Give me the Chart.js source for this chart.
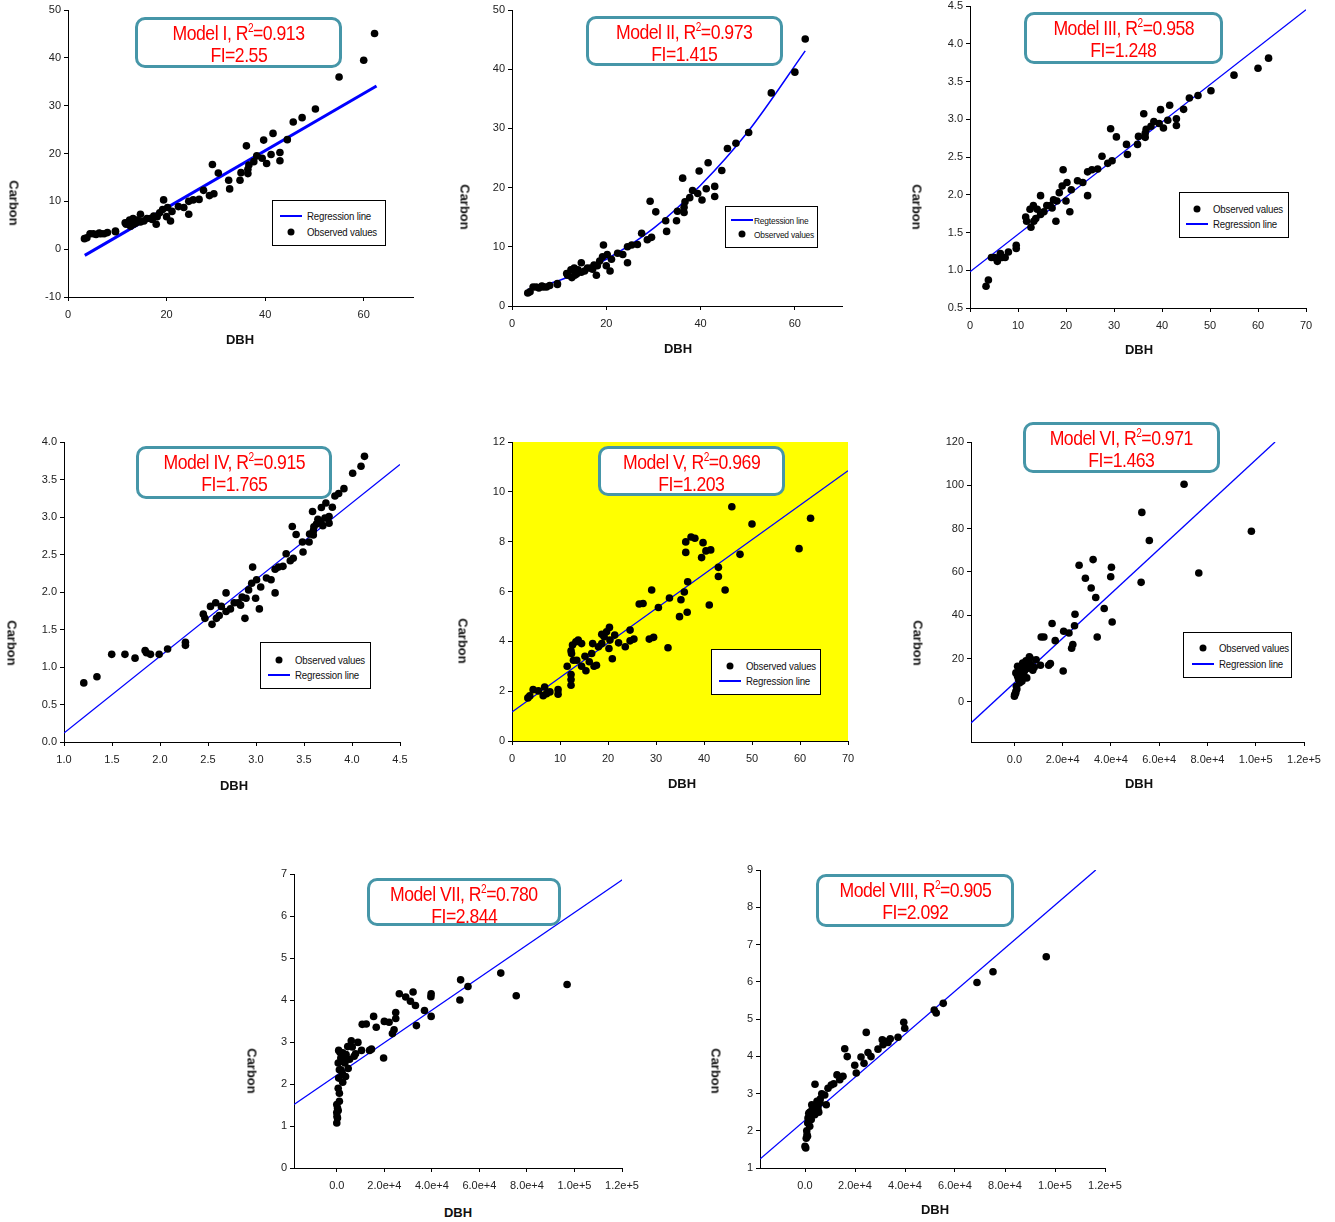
<!DOCTYPE html>
<html>
<head>
<meta charset="utf-8">
<script src="https://cdn.jsdelivr.net/npm/chart.js@4.4.0/dist/chart.umd.min.js"></script>
<style>
html,body{margin:0;padding:0;background:#fff;}
body{width:1335px;height:1222px;position:relative;overflow:hidden;font-family:'Liberation Sans',Arial,sans-serif;}
.wrap{position:absolute;}
.ttl{position:absolute;font-weight:bold;font-size:13px;color:#111;white-space:nowrap;transform:translate(-50%,-50%);}
.ttl.v{transform:translate(-50%,-50%) rotate(90deg);}
.box{position:absolute;box-sizing:border-box;border:3px solid #4696a8;border-radius:10px;background:#fff;color:#ff0000;
  font-family:'Liberation Sans',Arial,sans-serif;font-size:21px;letter-spacing:-0.6px;
  text-align:center;line-height:22px;padding-top:2px;white-space:nowrap;}
.box .row{height:22px;}
.box .row span{display:inline-block;transform:scaleX(0.84);transform-origin:50% 50%;}
.box sup{font-size:12px;line-height:0;vertical-align:0;position:relative;top:-8px;}
.lg{position:absolute;box-sizing:border-box;border:1px solid #000;background:#fff;
  font-family:'Liberation Sans',Arial,sans-serif;color:#111;letter-spacing:-0.2px;}
.lg .t{position:absolute;white-space:nowrap;transform:translateY(-50%) scaleX(0.88);transform-origin:0 50%;}
.lg .ln{position:absolute;height:2px;background:#0000ff;transform:translateY(-50%);}
.lg .dt{position:absolute;width:7px;height:7px;border-radius:50%;background:#000;transform:translate(-50%,-50%);}
</style>
</head>
<body>
<script>
// ---- Tree data: DBH vs Carbon (Models I, II) and their log forms (Models III, IV)
const dbh = [62.2,60.0,55.0,50.2,47.5,45.7,44.5,41.6,39.7,36.2,43.0,43.0,41.2,40.3,38.3,39.4,37.7,36.7,36.5,36.5,
  35.1,34.9,32.6,32.8,30.5,29.3,29.6,28.7,27.5,26.6,25.4,24.5,24.5,23.5,22.4,21.1,19.4,20.2,20.8,20.0,
  19.2,18.6,17.9,17.4,16.7,16.0,15.4,14.7,14.7,14.0,13.3,12.5,11.8,12.7,11.6,18.1,17.1,13.7,13.2,
  3.34,3.83,4.47,5.13,5.70,6.33,6.42,6.69,7.32,8.00,9.63,9.63];
const carbon = [45.1,39.5,36.0,29.3,27.5,26.6,22.9,24.2,22.8,21.6,20.2,18.5,19.8,17.9,19.5,19.0,18.3,17.6,16.7,15.8,
  16.0,14.4,14.4,12.6,15.9,17.7,11.6,11.2,12.3,10.4,10.3,10.0,7.3,8.7,8.9,7.9,10.3,8.7,5.9,6.8,
  8.3,7.6,5.2,6.9,6.4,6.4,5.9,7.3,5.7,6.1,5.2,6.1,5.2,4.8,5.5,6.8,6.2,5.4,6.4,
  2.20,2.39,3.22,3.22,3.06,3.39,3.29,3.22,3.22,3.46,3.78,3.63];
const lnCarbon = [3.809,3.676,3.584,3.378,3.314,3.281,3.131,3.186,3.127,3.073,3.006,2.918,2.986,2.885,2.970,2.944,2.907,2.868,2.815,2.760,
  2.773,2.667,2.667,2.534,2.766,2.874,2.451,2.416,2.510,2.342,2.332,2.303,1.988,2.163,2.186,2.067,2.332,2.163,1.775,1.917,
  2.116,2.028,1.649,1.932,1.856,1.856,1.775,1.988,1.740,1.808,1.649,1.808,1.649,1.569,1.705,1.917,1.825,1.686,1.856,
  0.788,0.871,1.169,1.169,1.118,1.221,1.191,1.169,1.169,1.241,1.330,1.289];
const lnDbh = [4.130,4.094,4.007,3.916,3.861,3.822,3.795,3.728,3.681,3.589,3.761,3.761,3.718,3.696,3.645,3.674,3.630,3.603,3.597,3.597,
  3.558,3.553,3.484,3.490,3.418,3.378,3.388,3.357,3.314,3.281,3.235,3.199,3.199,3.157,3.109,3.049,2.965,3.006,3.035,2.996,
  2.955,2.923,2.885,2.856,2.815,2.773,2.734,2.688,2.688,2.639,2.588,2.526,2.468,2.542,2.451,2.896,2.839,2.617,2.580,
  1.206,1.343,1.497,1.635,1.740,1.845,1.859,1.901,1.991,2.079,2.265,2.265];

// ---- Model V
const vDbh = [62.2,59.8,50.0,45.8,47.5,43.0,43.0,44.4,41.4,40.4,39.8,39.5,41.1,38.1,37.3,36.2,36.2,36.6,36.5,35.9,
  35.2,34.9,32.8,32.5,30.5,29.1,29.5,28.6,27.3,26.5,25.4,24.6,24.6,23.6,22.2,21.4,20.9,20.4,20.2,20.3,
  19.7,19.2,18.7,18.7,18.0,17.6,17.1,16.6,16.8,16.1,15.4,15.2,14.5,14.5,13.8,13.5,13.3,12.6,12.4,12.3,
  12.3,12.3,12.3,11.5,12.8,9.6,9.6,7.9,7.2,6.8,6.5,5.5,4.4,3.7,3.3];
const vCarbon = [8.94,7.72,8.71,9.40,7.49,6.97,6.60,6.06,7.67,7.63,7.96,7.36,5.46,8.14,8.19,7.99,7.57,6.39,5.17,5.98,
  5.67,4.99,5.74,3.74,5.36,6.06,4.16,4.09,5.52,5.50,4.09,4.45,4.02,3.78,3.94,4.25,3.30,4.05,3.71,4.56,
  4.38,4.18,3.91,4.28,3.78,3.04,3.00,3.51,3.91,3.18,2.82,3.40,3.00,3.91,4.05,3.24,3.98,3.85,3.51,3.62,
  2.67,2.47,2.24,3.00,3.24,2.06,1.88,1.97,1.90,2.17,1.82,2.01,2.06,1.81,1.73];

// ---- Model VI
const viDbh = [98200,76400,70300,55900,52800,52500,40200,39900,40500,37200,33700,34300,32600,31800,29400,26800,25100,24900,24200,23700,
  22600,20400,20200,16900,15600,14900,14200,12200,11100,10800,9000,7600,7200,6500,5900,5100,4500,4100,3400,3100,
  2700,2000,1700,1300,800,600,100,1300,600,2200,6200,3700,0,2800,4000,5500,3000,1000,500,2500,6800,8200,1800,4800];
const viCarbon = [78.8,59.5,100.5,74.5,87.5,55.2,62.2,57.8,36.9,43.1,48.2,30.0,65.7,52.6,57.1,63.1,40.5,35.2,26.5,24.8,
  31.8,32.6,14.3,28.3,36.2,17.7,16.9,30.0,30.0,16.9,19.5,14.6,16.5,20.3,18.8,11.1,16.5,14.2,18.0,9.5,
  13.4,15.7,10.3,16.5,7.2,4.9,3.4,11.8,13.4,8.8,20.8,12.6,2.6,14.6,17.0,15.5,16.0,6.0,4.0,11.0,17.2,16.0,12.0,19.0];

// ---- Model VII
const viiDbh = [96900,75500,69000,55200,52100,51800,39700,39600,39700,36900,33500,33100,32100,31000,29000,26300,24800,24800,24100,23400,
  22000,20000,19700,16600,15500,14600,13800,12400,10700,10400,8900,7900,7300,6500,6100,5400,4800,4600,3900,3700,
  3100,2500,2300,2000,1700,1400,1100,1100,800,800,600,600,300,100,0,0,0,300,600,1100,1700,2500,3400,4200];
const viiCarbon = [4.37,4.10,4.64,4.32,4.48,4.00,3.61,4.08,4.15,3.75,3.39,3.87,4.19,3.97,4.07,4.15,3.70,3.56,3.29,3.20,
  3.47,3.49,2.62,3.35,3.61,2.83,2.80,3.43,3.42,2.80,2.99,2.72,2.66,2.88,3.03,2.59,2.37,2.89,2.70,2.18,
  2.66,2.04,2.26,2.54,2.34,2.75,1.78,1.59,2.14,2.80,1.90,2.50,1.43,1.23,1.07,1.32,1.51,1.19,1.37,2.34,2.62,2.74,2.50,2.59];

// ---- Model VIII
const viiiDbh = [96500,75200,68800,55300,52500,51700,39900,39500,37200,34100,33200,32000,31200,30900,29200,26400,25200,24500,23600,22400,
  20500,19900,16900,15900,15200,13900,12800,11500,10500,9200,8500,7900,6700,5200,4800,4000,3500,3200,2700,2300,
  1900,1500,1200,800,500,300,0,1900,1100,3900,4500,6100,2000,1500,3000,1000,700,5500,2500,6000];
const viiiCarbon = [6.67,6.27,5.98,5.42,5.16,5.24,4.75,4.91,4.51,4.47,4.37,4.40,4.31,4.44,4.19,3.99,4.10,4.64,3.81,3.98,
  3.55,3.76,3.99,4.20,3.46,3.37,3.50,3.26,3.23,3.14,2.70,2.96,2.99,2.61,2.79,3.25,2.65,2.47,2.70,2.39,
  2.28,2.47,2.34,1.89,1.80,1.54,1.58,2.12,2.21,2.43,2.56,2.85,2.50,2.30,2.60,1.85,2.00,2.50,2.30,2.75];

// ---- Fitted lines (end points / curve nodes)
const fitI_x = [3.4, 62.6],        fitI_y = [-1.3, 34.1];
const fitII_x = [3.3, 10, 20, 30, 40, 50, 62.2], fitII_y = [2.8, 4.3, 7.9, 13.1, 20.4, 29.4, 43.1];
const fitIII_x = [0, 70],          fitIII_y = [0.98, 4.45];
const fitIV_x = [1.0, 4.5],        fitIV_y = [0.12, 3.70];
const fitV_x = [0, 70],            fitV_y = [1.16, 10.85];
const fitVI_x = [-18000, 108000],  fitVI_y = [-9.7, 120];
const fitVII_x = [-18000, 120600], fitVII_y = [1.51, 6.88];
const fitVIII_x = [-18000, 116300], fitVIII_y = [1.24, 9.0];

// ---- Axis ticks and labels
const ticks0to60 = [0, 20, 40, 60];
const ticks0to70 = [0, 10, 20, 30, 40, 50, 60, 70];
const ticksCarbonI = [-10, 0, 10, 20, 30, 40, 50];
const ticksCarbonII = [0, 10, 20, 30, 40, 50];
const ticksLnCarbon = [0.5, 1.0, 1.5, 2.0, 2.5, 3.0, 3.5, 4.0, 4.5];
const ticksLnDbh = [1.0, 1.5, 2.0, 2.5, 3.0, 3.5, 4.0, 4.5];
const ticksLnCarbonIV = [0.0, 0.5, 1.0, 1.5, 2.0, 2.5, 3.0, 3.5, 4.0];
const ticksCarbonV = [0, 2, 4, 6, 8, 10, 12];
const ticksCarbonVI = [0, 20, 40, 60, 80, 100, 120];
const ticksCarbonVII = [0, 1, 2, 3, 4, 5, 6, 7];
const ticksCarbonVIII = [1, 2, 3, 4, 5, 6, 7, 8, 9];
const ticksSci = [0, 20000, 40000, 60000, 80000, 100000, 120000];
const labelsSci = ['0.0', '2.0e+4', '4.0e+4', '6.0e+4', '8.0e+4', '1.0e+5', '1.2e+5'];

const pairs = (xs, ys) => xs.map((v, i) => ({x: v, y: ys[i]}));
const intLabel = v => String(v);
const oneDec = v => Number(v).toFixed(1);

const PANELS = [
  {rect:[68,10,413,297], xr:[0,70], yr:[-10,50], xt:ticks0to60, yt:ticksCarbonI, xf:intLabel, yf:intLabel,
   pts:pairs(dbh,carbon), fit:pairs(fitI_x,fitI_y), fw:3,
   yTitle:[14,203], xTitle:[240,339],
   box:{l:135,t:17,w:207,h:51,l1:'Model I, R<sup>2</sup>=0.913',l2:'FI=2.55'},
   leg:{l:272,t:200,w:114,h:46,fs:11,mx:18,tx:34,rows:[['line','Regression line',15],['dot','Observed values',31]]}},
  {rect:[512,10,842,306], xr:[0,70], yr:[0,50], xt:ticks0to60, yt:ticksCarbonII, xf:intLabel, yf:intLabel,
   pts:pairs(dbh,carbon), fit:pairs(fitII_x,fitII_y), fw:1.5, tension:0.4,
   yTitle:[465,207], xTitle:[678,348],
   box:{l:586,t:16,w:197,h:50,l1:'Model II, R<sup>2</sup>=0.973',l2:'FI=1.415'},
   leg:{l:725,t:206,w:93,h:42,fs:9.5,mx:16,tx:28,rows:[['line','Regtession line',13],['dot','Observed values',27]]}},
  {rect:[970,6,1306,308], xr:[0,70], yr:[0.5,4.5], xt:ticks0to70, yt:ticksLnCarbon, xf:intLabel, yf:oneDec,
   pts:pairs(dbh,lnCarbon), fit:pairs(fitIII_x,fitIII_y), fw:1.3,
   yTitle:[917,207], xTitle:[1139,349],
   box:{l:1024,t:12,w:199,h:52,l1:'Model III, R<sup>2</sup>=0.958',l2:'FI=1.248'},
   leg:{l:1179,t:192,w:110,h:46,fs:11,mx:17,tx:33,rows:[['dot','Observed values',16],['line','Regression line',31]]}},
  {rect:[64,442,400,742], xr:[1.0,4.5], yr:[0,4], xt:ticksLnDbh, yt:ticksLnCarbonIV, xf:oneDec, yf:oneDec,
   pts:pairs(lnDbh,lnCarbon), fit:pairs(fitIV_x,fitIV_y), fw:1.3,
   yTitle:[12,643], xTitle:[234,785],
   box:{l:136,t:446,w:196,h:53,l1:'Model IV, R<sup>2</sup>=0.915',l2:'FI=1.765'},
   leg:{l:260,t:642,w:111,h:47,fs:11,mx:18,tx:34,rows:[['dot','Observed values',17],['line','Regression line',32]]}},
  {rect:[512,442,848,741], xr:[0,70], yr:[0,12], xt:ticks0to70, yt:ticksCarbonV, xf:intLabel, yf:intLabel,
   pts:pairs(vDbh,vCarbon), fit:pairs(fitV_x,fitV_y), fw:1.3, bg:'#ffff00',
   yTitle:[463,641], xTitle:[682,783],
   box:{l:598,t:446,w:187,h:50,l1:'Model V, R<sup>2</sup>=0.969',l2:'FI=1.203'},
   leg:{l:711,t:649,w:110,h:46,fs:11,mx:18,tx:34,rows:[['dot','Observed values',16],['line','Regression line',31]]}},
  {rect:[971,442,1304,742], xr:[-18000,120000], yr:[-18.5,120], xt:ticksSci, yt:ticksCarbonVI, xlab:labelsSci, yf:intLabel,
   pts:pairs(viDbh,viCarbon), fit:pairs(fitVI_x,fitVI_y), fw:1.3,
   yTitle:[918,643], xTitle:[1139,783],
   box:{l:1023,t:422,w:197,h:51,l1:'Model VI, R<sup>2</sup>=0.971',l2:'FI=1.463'},
   leg:{l:1183,t:632,w:109,h:46,fs:11,mx:19,tx:35,rows:[['dot','Observed values',15],['line','Regression line',31]]}},
  {rect:[294,874,622,1168], xr:[-18000,120000], yr:[0,7], xt:ticksSci, yt:ticksCarbonVII, xlab:labelsSci, yf:intLabel,
   pts:pairs(viiDbh,viiCarbon), fit:pairs(fitVII_x,fitVII_y), fw:1.3,
   yTitle:[252,1071], xTitle:[458,1212],
   box:{l:367,t:878,w:194,h:48,l1:'Model VII, R<sup>2</sup>=0.780',l2:'FI=2.844'}},
  {rect:[760,870,1105,1168], xr:[-18000,120000], yr:[1,9], xt:ticksSci, yt:ticksCarbonVIII, xlab:labelsSci, yf:intLabel,
   pts:pairs(viiiDbh,viiiCarbon), fit:pairs(fitVIII_x,fitVIII_y), fw:1.3,
   yTitle:[716,1071], xTitle:[935,1209],
   box:{l:816,t:874,w:198,h:53,l1:'Model VIII, R<sup>2</sup>=0.905',l2:'FI=2.092'}}
];

Chart.defaults.font.family = "'Liberation Sans', Arial, sans-serif";
Chart.defaults.font.size = 11;
Chart.defaults.color = '#222';

// fills the plotting area (used for the yellow panel)
const plotBg = {
  id: 'plotBg',
  beforeDraw(chart, args, opts) {
    if (!opts.color) return;
    const a = chart.chartArea, c = chart.ctx;
    c.save(); c.fillStyle = opts.color; c.fillRect(a.left, a.top, a.right - a.left, a.bottom - a.top); c.restore();
  }
};

function el(tag, cls, parent) {
  const e = document.createElement(tag);
  if (cls) e.className = cls;
  (parent || document.body).appendChild(e);
  return e;
}

function makePanel(p) {
  const [L, T, R, B] = p.rect;
  const padL = 60, padT = 14, padR = 30, padB = 36;
  const W = R - L + padL + padR, H = B - T + padT + padB;
  const wrap = el('div', 'wrap');
  Object.assign(wrap.style, {left: (L - padL) + 'px', top: (T - padT) + 'px', width: W + 'px', height: H + 'px'});
  const cv = el('canvas', null, wrap);
  cv.width = W; cv.height = H;
  cv.style.width = W + 'px'; cv.style.height = H + 'px';

  const axisCommon = {
    grid: {display: true, drawOnChartArea: false, drawTicks: true, tickLength: 4, color: '#000', lineWidth: 1},
    border: {display: true, color: '#000', width: 1}
  };
  new Chart(cv, {
    type: 'scatter',
    data: {
      datasets: [
        {data: p.pts, backgroundColor: '#000', borderColor: '#000', pointRadius: 3.8, pointHoverRadius: 3.8, borderWidth: 0},
        {data: p.fit, showLine: true, borderColor: '#0000ff', borderWidth: p.fw, pointRadius: 0,
         tension: p.tension || 0, cubicInterpolationMode: p.tension ? 'monotone' : 'default', fill: false}
      ]
    },
    options: {
      responsive: false, animation: false, devicePixelRatio: 1,
      layout: {padding: {left: 0, top: padT, right: padR, bottom: 0}},
      plugins: {legend: {display: false}, tooltip: {enabled: false}, plotBg: {color: p.bg || null}},
      events: [],
      scales: {
        x: Object.assign({
          type: 'linear', position: 'bottom', min: p.xr[0], max: p.xr[1],
          afterFit: s => { s.height = padB; },
          afterBuildTicks: s => { s.ticks = p.xt.map(v => ({value: v})); },
          ticks: {padding: 7, maxRotation: 0, minRotation: 0, autoSkip: false,
                  callback: (v, i) => p.xlab ? p.xlab[i] : p.xf(p.xt[i])}
        }, axisCommon),
        y: Object.assign({
          type: 'linear', position: 'left', min: p.yr[0], max: p.yr[1],
          afterFit: s => { s.width = padL; },
          afterBuildTicks: s => { s.ticks = p.yt.map(v => ({value: v})); },
          ticks: {padding: 3, autoSkip: false, callback: (v, i) => p.yf(p.yt[i])}
        }, axisCommon)
      }
    },
    plugins: [plotBg]
  });

  // axis titles
  const yt = el('div', 'ttl v'); yt.textContent = 'Carbon';
  yt.style.left = p.yTitle[0] + 'px'; yt.style.top = p.yTitle[1] + 'px';
  const xt = el('div', 'ttl'); xt.textContent = 'DBH';
  xt.style.left = p.xTitle[0] + 'px'; xt.style.top = p.xTitle[1] + 'px';

  // model statistics box
  const b = el('div', 'box');
  Object.assign(b.style, {left: p.box.l + 'px', top: p.box.t + 'px', width: p.box.w + 'px', height: p.box.h + 'px'});
  b.innerHTML = '<div class="row"><span>' + p.box.l1 + '</span></div><div class="row"><span>' + p.box.l2 + '</span></div>';

  // legend
  if (p.leg) {
    const g = el('div', 'lg');
    Object.assign(g.style, {left: p.leg.l + 'px', top: p.leg.t + 'px', width: p.leg.w + 'px', height: p.leg.h + 'px', fontSize: p.leg.fs + 'px'});
    p.leg.rows.forEach(([kind, label, cy]) => {
      if (kind === 'line') {
        const ln = el('div', 'ln', g);
        Object.assign(ln.style, {left: (p.leg.mx - 11) + 'px', width: '22px', top: cy + 'px'});
      } else {
        const dt = el('div', 'dt', g);
        Object.assign(dt.style, {left: p.leg.mx + 'px', top: cy + 'px'});
      }
      const t = el('div', 't', g);
      t.textContent = label;
      Object.assign(t.style, {left: p.leg.tx + 'px', top: cy + 'px'});
    });
  }
}

PANELS.forEach(makePanel);
</script>
</body>
</html>
